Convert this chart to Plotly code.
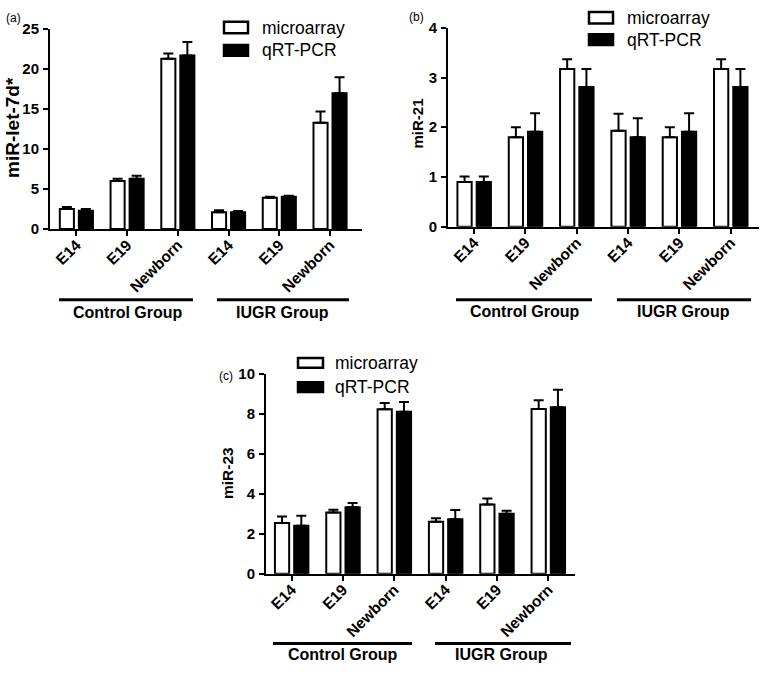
import plotly.graph_objects as go

W, H = 760, 674

categories = ["E14", "E19", "Newborn", "E14", "E19", "Newborn"]
series_names = ["microarray", "qRT-PCR"]
groups = ["Control Group", "IUGR Group"]

# Panel (a) miR-let-7d*
a_micro = [2.5, 6.0, 21.3, 2.1, 3.9, 13.3]
a_micro_err = [0.25, 0.3, 0.65, 0.25, 0.15, 1.4]
a_qrt = [2.3, 6.3, 21.7, 2.1, 4.05, 17.0]
a_qrt_err = [0.2, 0.35, 1.7, 0.15, 0.12, 2.0]

# Panel (b) miR-21
b_micro = [0.9, 1.8, 3.17, 1.93, 1.8, 3.17]
b_micro_err = [0.11, 0.2, 0.2, 0.34, 0.2, 0.2]
b_qrt = [0.9, 1.91, 2.81, 1.8, 1.91, 2.81]
b_qrt_err = [0.11, 0.37, 0.36, 0.38, 0.37, 0.36]

# Panel (c) miR-23
c_micro = [2.54, 3.06, 8.23, 2.6, 3.46, 8.24]
c_micro_err = [0.32, 0.14, 0.31, 0.18, 0.3, 0.44]
c_qrt = [2.4, 3.33, 8.1, 2.73, 3.0, 8.33]
c_qrt_err = [0.5, 0.21, 0.49, 0.46, 0.15, 0.87]

FONT = "Liberation Sans, Arial, Helvetica, sans-serif"

def px(x):
    return x / W

def py(y):
    return 1 - y / H

panels = [
    dict(key="", label="(a)", title="miR-let-7d*", tfs=19, micro=a_micro, me=a_micro_err,
         qrt=a_qrt, qe=a_qrt_err, yr=[0, 25], dt=5,
         xpx=(50, 362), xr=[-0.52, 5.63], ypx=(225.7, 20.7),
         title_pos=(13, 122), lab_pos=(4, 9),
         leg=(224, 248, (13, 25), (37, 48), 260),
         glines=[(59, 193, 298.3), (217, 349, 298.3)], gtext=[(128, 311), (282, 311)]),
    dict(key="2", label="(b)", title="miR-21", tfs=15, micro=b_micro, me=b_micro_err,
         qrt=b_qrt, qe=b_qrt_err, yr=[0, 4], dt=1,
         xpx=(448, 759), xr=[-0.51, 5.55], ypx=(223.3, 19.3),
         title_pos=(418, 117.5), lab_pos=(407, 8),
         leg=(589, 613, (3, 15), (26, 37), 625),
         glines=[(456, 592, 298.3), (617, 751, 298.3)], gtext=[(525, 310), (683, 310)]),
    dict(key="3", label="(c)", title="miR-23", tfs=15.5, micro=c_micro, me=c_micro_err,
         qrt=c_qrt, qe=c_qrt_err, yr=[0, 10], dt=2,
         xpx=(266, 575), xr=[-0.5, 5.52], ypx=(579.3, 374.3),
         title_pos=(228, 476), lab_pos=(217, 376),
         leg=(298, 323, (358, 368), (383, 393), 333),
         glines=[(273, 412, 651), (435, 571, 651)], gtext=[(342.5, 662), (501, 662)]),
]

fig = go.Figure()
xs = list(range(len(categories)))
shapes = []
annotations = []
layout_axes = {}

for p in panels:
    k = p["key"]
    xa = "x" + k
    ya = "y" + k
    fig.add_trace(go.Bar(
        x=xs, y=p["micro"], name=series_names[0], xaxis=xa, yaxis=ya,
        marker=dict(color="white", line=dict(color="black", width=2)),
        error_y=dict(type="data", symmetric=False, array=p["me"], arrayminus=[0] * 6,
                     color="black", thickness=2, width=5),
        offsetgroup="m", showlegend=False))
    fig.add_trace(go.Bar(
        x=xs, y=p["qrt"], name=series_names[1], xaxis=xa, yaxis=ya,
        marker=dict(color="black", line=dict(color="black", width=2)),
        error_y=dict(type="data", symmetric=False, array=p["qe"], arrayminus=[0] * 6,
                     color="black", thickness=2, width=5),
        offsetgroup="q", showlegend=False))

    x0, x1 = p["xpx"]
    yb, yt = p["ypx"]
    layout_axes["xaxis" + k] = dict(
        domain=[px(x0), px(x1)], range=p["xr"], anchor=ya,
        tickmode="array", tickvals=xs, ticktext=categories, tickangle=-45,
        showline=True, linecolor="black", linewidth=2,
        ticks="outside", ticklen=5, tickwidth=2, tickcolor="black",
        ticklabelstandoff=-6,
        showgrid=False, zeroline=False, fixedrange=True,
        tickfont=dict(family=FONT, size=15.5, color="black", weight="bold"))
    layout_axes["yaxis" + k] = dict(
        domain=[py(yb), py(yt)], range=p["yr"], anchor=xa,
        tickmode="linear", tick0=0, dtick=p["dt"],
        showline=True, linecolor="black", linewidth=2,
        ticks="outside", ticklen=5, tickwidth=2, tickcolor="black",
        ticklabelstandoff=1,
        showgrid=False, zeroline=False, fixedrange=True,
        tickfont=dict(family=FONT, size=15, color="black", weight="bold"))

    tx, ty = p["title_pos"]
    annotations.append(dict(x=px(tx), y=py(ty), xref="paper", yref="paper",
                            text="<b>" + p["title"] + "</b>", textangle=-90, showarrow=False,
                            font=dict(family=FONT, size=p["tfs"], color="black"),
                            xanchor="center", yanchor="middle"))
    lx, ly = p["lab_pos"]
    annotations.append(dict(x=px(lx), y=py(ly), xref="paper", yref="paper",
                            text=p["label"], showarrow=False,
                            font=dict(family=FONT, size=12, color="black"),
                            xanchor="left", yanchor="middle"))
    bx0, bx1, r1, r2, tx0 = p["leg"]
    for (ry0, ry1), fill, name in [(r1, "white", series_names[0]), (r2, "black", series_names[1])]:
        shapes.append(dict(type="rect", xref="paper", yref="paper",
                           x0=px(bx0), x1=px(bx1), y0=py(ry1), y1=py(ry0),
                           fillcolor=fill, line=dict(color="black", width=2.5)))
        annotations.append(dict(x=px(tx0), y=py((ry0 + ry1) / 2), xref="paper", yref="paper",
                                text=name, showarrow=False,
                                font=dict(family=FONT, size=17.5, color="black"),
                                xanchor="left", yanchor="middle"))
    for (gx0, gx1, gy), (gtx, gty), gname in zip(p["glines"], p["gtext"], groups):
        shapes.append(dict(type="line", xref="paper", yref="paper",
                           x0=px(gx0), x1=px(gx1), y0=py(gy), y1=py(gy),
                           line=dict(color="black", width=3)))
        annotations.append(dict(x=px(gtx), y=py(gty), xref="paper", yref="paper",
                                text="<b>" + gname + "</b>", showarrow=False,
                                font=dict(family=FONT, size=16, color="black"),
                                xanchor="center", yanchor="middle"))

fig.update_layout(
    width=W, height=H,
    margin=dict(l=0, r=0, t=0, b=0),
    paper_bgcolor="white", plot_bgcolor="white",
    barmode="group", bargap=0.25, bargroupgap=0.26,
    showlegend=False,
    shapes=shapes, annotations=annotations,
    font=dict(family=FONT, color="black"),
    **layout_axes)

fig.write_html("out.html", config={"displayModeBar": False},
               post_script="document.body.style.margin='0';document.body.style.overflow='hidden';")
